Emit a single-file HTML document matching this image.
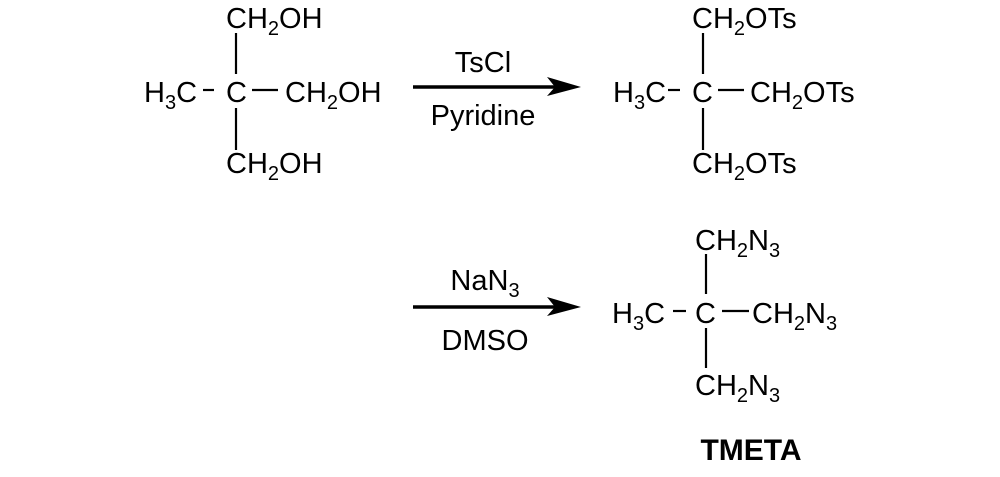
<!DOCTYPE html>
<html><head><meta charset="utf-8"><style>
html,body{margin:0;padding:0;background:#fff;}
svg text{font-family:"Liberation Sans",Arial,sans-serif;font-size:29px;fill:#000;}
.s{font-size:20px;}
</style></head><body>
<svg width="1000" height="472" viewBox="0 0 1000 472" xmlns="http://www.w3.org/2000/svg">
<g stroke="#000" stroke-width="2.2" fill="none">
<line x1="236" y1="33" x2="236" y2="74"/>
<line x1="236" y1="108" x2="236" y2="150"/>
<line x1="203" y1="90" x2="214" y2="90"/>
<line x1="252" y1="90" x2="278" y2="90"/>
<line x1="703" y1="33" x2="703" y2="74"/>
<line x1="703" y1="108" x2="703" y2="150"/>
<line x1="668" y1="90" x2="680" y2="90"/>
<line x1="718" y1="90" x2="744" y2="90"/>
<line x1="706" y1="254" x2="706" y2="294"/>
<line x1="706" y1="328" x2="706" y2="368"/>
<line x1="673" y1="311" x2="686" y2="311"/>
<line x1="722" y1="311" x2="749" y2="311"/>
</g>
<g stroke="#000" stroke-width="3.5">
<line x1="413" y1="87" x2="555" y2="87"/>
<line x1="413" y1="307" x2="555" y2="307"/>
</g>
<polygon points="581,87 547,77 555,87 547,96" fill="#000"/>
<polygon points="581,307 547,297 555,307 547,316" fill="#000"/>

<text x="226" y="28">CH<tspan class="s" dy="7">2</tspan><tspan dy="-7">OH</tspan></text>
<text x="144" y="102">H<tspan class="s" dy="7">3</tspan><tspan dy="-7">C</tspan></text>
<text x="226" y="102">C</text>
<text x="285" y="102">CH<tspan class="s" dy="7">2</tspan><tspan dy="-7">OH</tspan></text>
<text x="226" y="173">CH<tspan class="s" dy="7">2</tspan><tspan dy="-7">OH</tspan></text>

<text x="483" y="72" text-anchor="middle">TsCl</text>
<text x="483" y="125" text-anchor="middle">Pyridine</text>

<text x="692" y="28">CH<tspan class="s" dy="7">2</tspan><tspan dy="-7">OTs</tspan></text>
<text x="613" y="102">H<tspan class="s" dy="7">3</tspan><tspan dy="-7">C</tspan></text>
<text x="692" y="102">C</text>
<text x="750" y="102">CH<tspan class="s" dy="7">2</tspan><tspan dy="-7">OTs</tspan></text>
<text x="692" y="173">CH<tspan class="s" dy="7">2</tspan><tspan dy="-7">OTs</tspan></text>

<text x="485" y="290" text-anchor="middle">NaN<tspan class="s" dy="7">3</tspan></text>
<text x="485" y="350" text-anchor="middle">DMSO</text>

<text x="695" y="250">CH<tspan class="s" dy="7">2</tspan><tspan dy="-7">N</tspan><tspan class="s" dy="7">3</tspan></text>
<text x="612" y="323">H<tspan class="s" dy="7">3</tspan><tspan dy="-7">C</tspan></text>
<text x="695" y="323">C</text>
<text x="752" y="323">CH<tspan class="s" dy="7">2</tspan><tspan dy="-7">N</tspan><tspan class="s" dy="7">3</tspan></text>
<text x="695" y="395">CH<tspan class="s" dy="7">2</tspan><tspan dy="-7">N</tspan><tspan class="s" dy="7">3</tspan></text>

<text x="751" y="460" text-anchor="middle" style="font-weight:bold;font-size:30px">TMETA</text>
</svg>
</body></html>
